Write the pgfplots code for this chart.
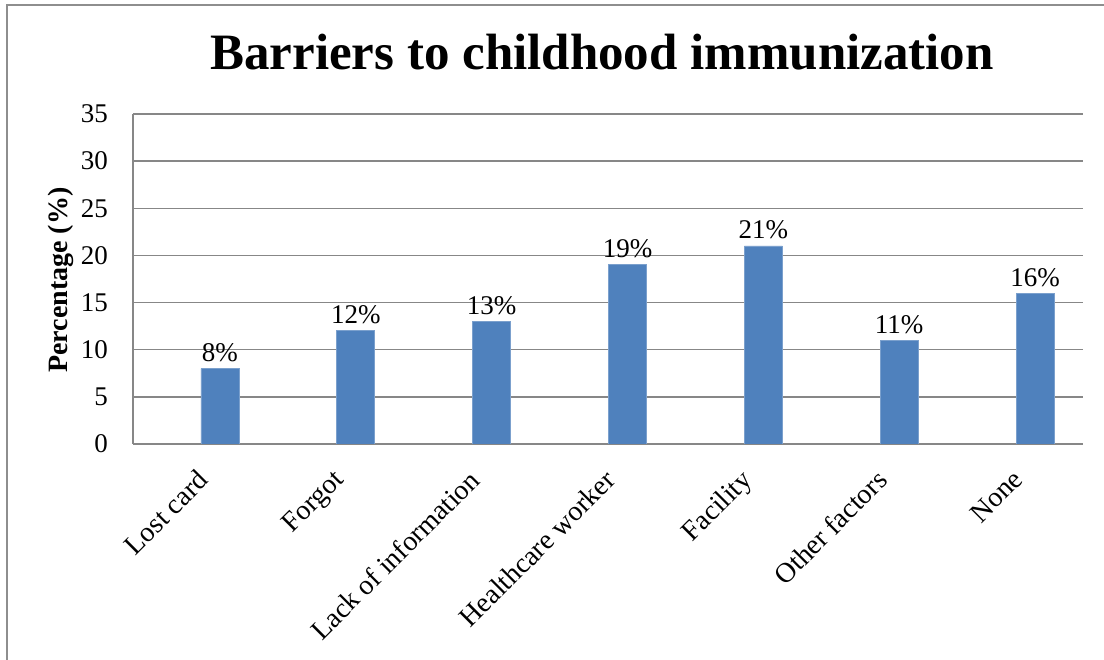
\documentclass[border=0pt]{standalone}
\usepackage{fontspec}
\setmainfont{Liberation Serif}
\usepackage{pgfplots}
\pgfplotsset{compat=1.18}
\definecolor{barblue}{HTML}{4F81BD}
\definecolor{gridgray}{HTML}{878787}
\definecolor{framegray}{HTML}{8E8E8E}

\begin{document}
\begin{tikzpicture}[x=1pt,y=1pt]
  % page area and outer chart frame
  \useasboundingbox (0,0) rectangle (1104,660);
  \draw[framegray, line width=2pt] (7,-20) -- (7,655) -- (1130,655);

  % chart title and y-axis title
  \node[anchor=base, inner sep=0pt, font=\bfseries\fontsize{51}{60}\selectfont]
    at (602,590) {Barriers to childhood immunization};
  \node[anchor=base, rotate=90, inner sep=0pt, font=\bfseries\fontsize{28}{33}\selectfont]
    at (67,380) {Percentage (\%)};

  \begin{axis}[
    at={(133pt,216pt)}, anchor=south west,
    scale only axis, width=950pt, height=330pt,
    xmin=-0.64, xmax=6.353, ymin=0, ymax=35,
    axis x line*=bottom, axis y line*=left,
    axis line style={-, gridgray, line width=1.5pt},
    ytick={0,5,...,35},
    ymajorgrids, grid style={gridgray, line width=1.5pt},
    major tick length=0pt,
    xtick={0,...,6},
    xticklabels={Lost card, Forgot, Lack of information, Healthcare worker,
                 Facility, Other factors, None},
    x tick label style={xshift=-24pt, yshift=-24pt, rotate=45, anchor=north east,
                        inner sep=0pt, font=\fontsize{28}{33}\selectfont},
    y tick label style={anchor=east, inner sep=0pt, xshift=-25pt,
                        font=\fontsize{27}{32}\selectfont},
    /pgf/number format/assume math mode=true,
    ybar, bar width=38pt,
    nodes near coords={\pgfmathprintnumber[assume math mode=true]{\pgfplotspointmeta}\%},
    every node near coord/.append style={anchor=base, inner sep=0pt, yshift=7pt,
                                         font=\fontsize{27}{32}\selectfont, black},
  ]
    \addplot[fill=barblue, draw=barblue!75!white, line width=0.8pt]
      coordinates {(0,8) (1,12) (2,13) (3,19) (4,21) (5,11) (6,16)};
  \end{axis}
\end{tikzpicture}
\end{document}
